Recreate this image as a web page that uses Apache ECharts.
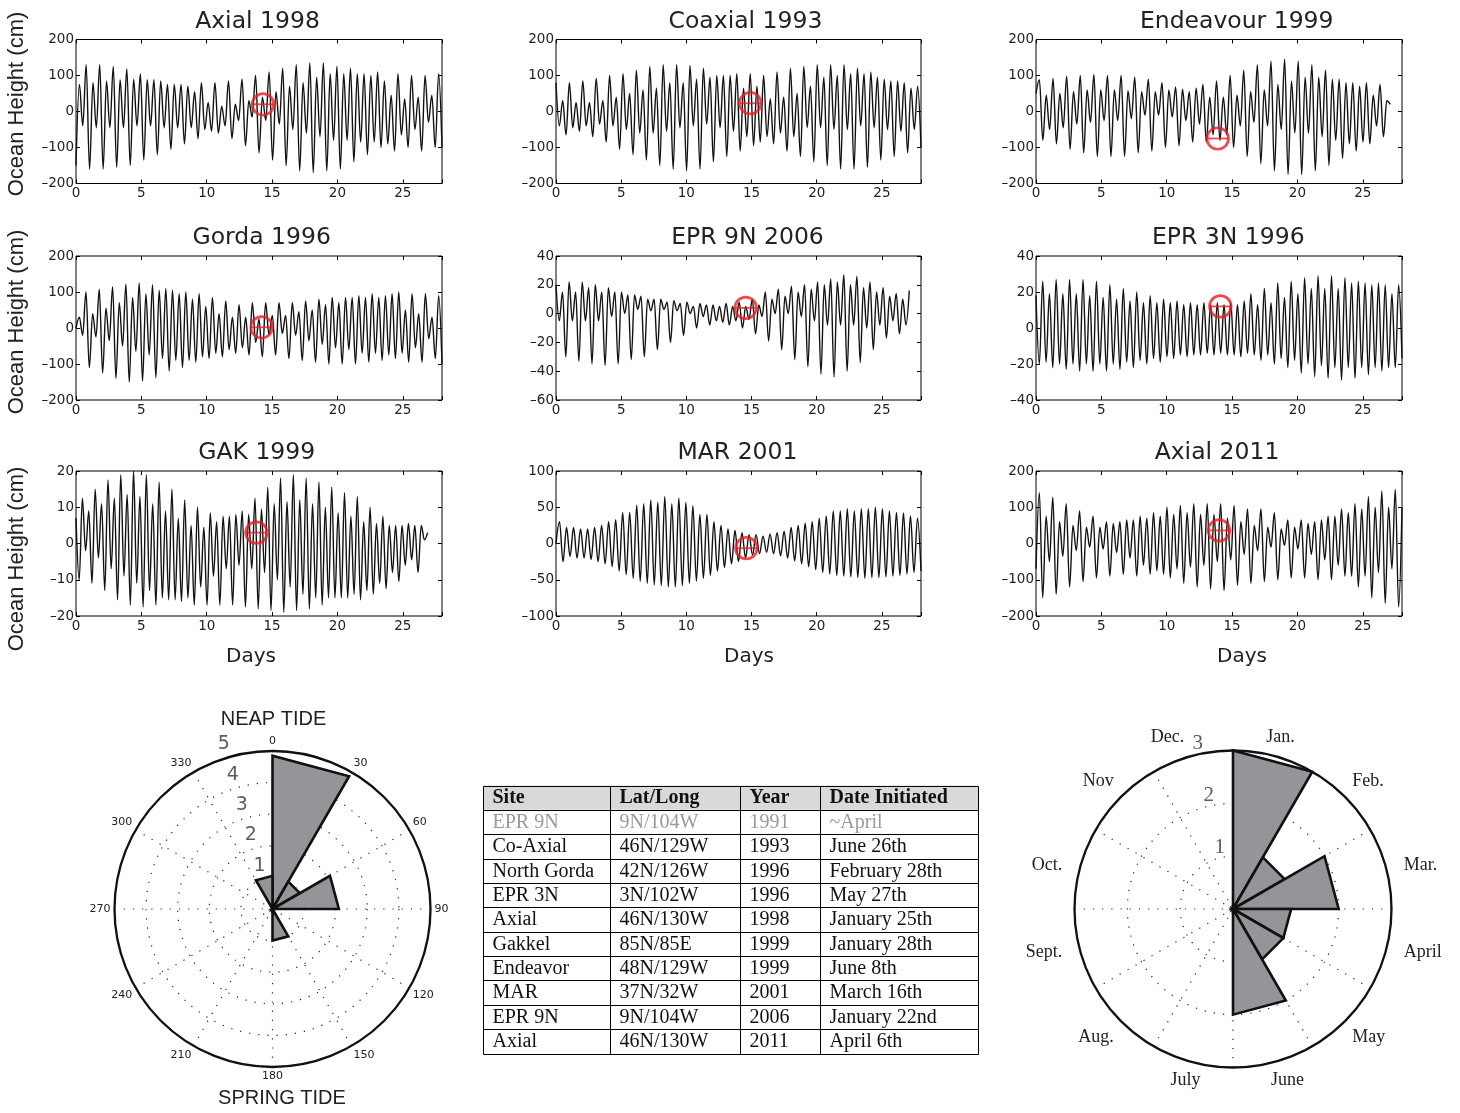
<!DOCTYPE html>
<html><head><meta charset="utf-8">
<script src="https://cdn.jsdelivr.net/npm/echarts@6/dist/echarts.min.js"></script>
<style>html,body{margin:0;padding:0;background:#fff;overflow:hidden}#c{width:1460px;height:1113px}</style>
</head><body><div id="c"></div>
<script>
// ---------- tidal records: successive extrema (cm), evenly spread over the record length ----------
const axial1998 = [-150, 75,-40,130,-160, 80,-45,130,-160, 85,-45,125,-155, 88,-45,118,-150, 90,-40,105,-135, 88,-40,88,-120, 85,-45,75,-105, 75,-45,75,-90, 70,-45,55,-75, 80,-50,25,-55, 80,-60,15,-40, 85,-75,20,-25, 90,-95,30,-15, 100,-115,40,-25, 110,-135,55,-35, 120,-150,70,-50, 130,-165,80,-60, 135,-170,95,-70, 135,-165,105,-80, 125,-160,105,-80, 120,-140,105,-85, 105,-120,100,-85, 110,-100,85,-90, 45,-110,105,-65, 35,-100,100,-50, 40,-110,100,-30, 45,-100,105,-100];
const coaxial1993 = [80, -40,30,-65,80, -45,25,-55,85, -40,25,-70,92, -35,30,-85,100, -40,40,-105,105, -50,50,-120,115, -60,60,-135,125, -60,65,-150,130, -55,80,-160,130, -45,80,-165,128, -40,90,-160,120, -35,95,-140,100, -45,100,-125,100, -55,105,-110,65, -70,105,-95,70, -85,100,-70,35, -90,110,-60,40, -110,120,-70,50, -125,125,-45,70, -140,130,-45,95, -150,130,-50,100, -160,130,-50,105, -160,120,-40,105, -155,110,-45,95, -135,90,-50,85, -125,85,-55,80, -115,65,-50,70, -100];
const endeavour1999 = [50, 88,-80,45,-50, 92,-90,50,-45, 98,-105,55,-35, 100,-115,60,-30, 103,-125,60,-25, 100,-125,60,-25, 100,-125,58,-20, 95,-115,55,-10, 90,-110,55,-10, 80,-100,60,-15, 68,-95,62,-25, 55,-85,65,-35, 75,-85,40,-65, 85,-80,40,-65, 100,-100,45,-40, 115,-125,55,-30, 130,-145,60,-40, 140,-165,75,-50, 145,-175,85,-60, 140,-175,95,-60, 130,-165,95,-70, 115,-150,90,-80, 90,-130,80,-90, 80,-110,70,-85, 80,-90,45,-40, 75,-70,30,20];
const gorda1996 = [0, 30,-20,100,-110, 40,-25,108,-125, 55,-35,115,-140, 70,-50,122,-150, 85,-65,125,-148, 95,-75,120,-138, 105,-85,110,-120, 105,-90,95,-110, 100,-90,80,-95, 95,-80,60,-85, 85,-70,40,-80, 75,-60,30,-70, 65,-55,30,-75, 70,-40,25,-80, 70,-20,35,-75, 70,-15,35,-85, 70,-20,45,-90, 75,-35,50,-95, 80,-45,65,-100, 85,-55,70,-100, 85,-60,85,-100, 90,-70,85,-95, 95,-70,85,-90, 90,-75,95,-85, 100,-70,50,-95, 95,-55,40,-95, 95,-30,30,-85, 90,-100];
const epr9n2006 = [20, -5,15,-30,22, -5,15,-33,22, -5,18,-35,20, -5,15,-36,18, -2,15,-35,15, 0,13,-32,13, 3,12,-30,10, 2,10,-25,10, 3,8,-20,9, 2,7,-15,8, 0,5,-10,7, -2,6,-8,6, -5,5,-6,7, -8,5,-5,8, -10,5,-4,10, -14,6,-2,15, -19,10,0,17, -25,12,0,19, -32,15,-2,20, -37,17,-5,22, -42,20,-8,24, -44,22,-8,27, -40,20,-8,26, -34,18,-10,22, -25,15,-8,18, -17,12,-5,14, -14,10,-8,16];
const epr3n1996 = [18, -20,26,-19,19, -22,27,-20,19, -23,27,-20,19, -24,27,-20,18, -24,26,-20,17, -24,24,-20,16, -23,22,-19,15, -22,20,-18,14, -20,18,-17,14, -19,16,-16,14, -17,15,-15,13, -16,14,-15,13, -15,14,-14,13, -15,14,-14,13, -15,14,-15,13, -16,15,-14,19, -15,13,-18,22, -15,14,-20,25, -17,17,-22,26, -18,19,-25,28, -20,22,-27,29, -21,22,-28,29, -22,22,-29,28, -22,25,-28,26, -22,25,-26,24, -22,25,-24,24, -22,19,-22,24, -17];
const gak1999 = [7, -10,12.5,-2,9, -11,15,-4,11, -13,17.5,-7,12.5, -15.5,19,-9,13.5, -17,20,-11,13, -17.5,19,-13,11, -17,17,-15,9, -15.5,15,-15.5,7, -16,12,-15,5, -17,10,-12,4.5, -17,8.5,-9,6, -17,7.5,-7,7.5, -17,8,-6,9, -17.5,8,-7,12.5, -18,9.5,-8,15.5, -18.5,11,-10,18, -19,11.5,-12,19, -18.5,12,-14,18, -18,11,-15,17, -17,10,-15,15.5, -15,8.5,-15,14, -15,7.5,-14,13, -15.5,6,-13,10, -14,5.5,-11,7.5, -12.5,5,-8,5, -10.5,5,-6,5.5, -4.5,5,-8,5, 1,3];
const mar2001 = [0, 30,-25, 22,-18, 22,-20, 20,-20, 20,-22, 22,-25, 25,-28, 30,-32, 33,-38, 43,-43, 43,-48, 53,-52, 55,-55, 60,-57, 57,-58, 65,-60, 55,-60, 63,-58, 57,-55, 52,-52, 40,-48, 40,-44, 30,-38, 25,-33, 20,-28, 18,-25, 15,-20, 12,-16, 12,-14, 10,-12, 13,-14, 15,-17, 17,-20, 22,-24, 25,-28, 28,-32, 30,-36, 35,-40, 38,-42, 45,-44, 45,-45, 48,-46, 45,-47, 48,-48, 48,-47, 50,-47, 48,-46, 45,-45, 43,-44, 42,-42, 38,-40, 35,-38];
const axial2011 = [-70, 140,-150, 75,-50, 128,-140, 60,-35, 110,-120, 50,-20, 90,-105, 45,-10, 75,-95, 45,-15, 60,-90, 55,-25, 60,-85, 65,-40, 65,-90, 75,-60, 70,-85, 85,-75, 75,-85, 100,-95, 80,-70, 105,-110, 85,-65, 110,-120, 80,-60, 110,-125, 80,-50, 110,-130, 70,-45, 105,-115, 60,-30, 95,-110, 50,-20, 95,-105, 45,-10, 85,-100, 40,-5, 65,-95, 45,-15, 65,-95, 55,-30, 60,-100, 65,-45, 75,-100, 75,-60, 95,-90, 85,-90, 110,-120, 95,-90, 130,-150, 100,-80, 145,-165, 100,-70, 150,-175, 100];

const panelTitles = ['Axial 1998','Coaxial 1993','Endeavour 1999','Gorda 1996','EPR 9N 2006','EPR 3N 1996','GAK 1999','MAR 2001','Axial 2011'];
const recordDays = [28, 28, 27.1, 28, 27.1, 28, 26.9, 28, 28];
const yMin = [-200,-200,-200,-200,-60,-40,-20,-100,-200];
const yMax = [200,200,200,200,40,40,20,100,200];
const yStep = [100,100,100,100,20,20,10,50,100];
const xTicks = [0,5,10,15,20,25];
const circleDay = [14.3, 14.9, 13.9, 14.2, 14.55, 14.1, 13.8, 14.6, 14.0];
const circleVal = [20, 23, -75, 2, 4, 12, 3, -6.5, 36];

// ---------- rose diagrams ----------
const binStart = [0,30,60,90,120,150,180,210,240,270,300,330];
const phaseCounts = [4.85, 1, 2.1, 0, 0, 1, 0, 0, 0, 0, 0, 1.05];
const phaseRadialTicks = [1,2,3,4,5];
const monthLabels = ['Jan.','Feb.','Mar.','April','May','June','July','Aug.','Sept.','Oct.','Nov','Dec.'];
const monthCounts = [3, 1.13, 2, 1.1, 1.1, 2, 0, 0, 0, 0, 0, 0];
const monthRadialTicks = [1,2,3];

// ---------- table ----------
const tableHeader = ['Site','Lat/Long','Year','Date Initiated'];
const tSite = ['EPR 9N','Co-Axial','North Gorda','EPR 3N','Axial','Gakkel','Endeavor','MAR','EPR 9N','Axial'];
const tLatLong = ['9N/104W','46N/129W','42N/126W','3N/102W','46N/130W','85N/85E','48N/129W','37N/32W','9N/104W','46N/130W'];
const tYear = ['1991','1993','1996','1996','1998','1999','1999','2001','2006','2011'];
const tDate = ['~April','June 26th','February 28th','May 27th','January 25th','January 28th','June 8th','March 16th','January 22nd','April 6th'];

// ---------- layout ----------
const panels = [axial1998, coaxial1993, endeavour1999, gorda1996, epr9n2006, epr3n1996, gak1999, mar2001, axial2011];
const gridLeft = [76, 556, 1036], gridW = [366, 365, 366];
const gridTop = [39.5, 256, 471], gridH = [144, 144, 145];
const titleX = [257.5, 745.5, 1236.7, 261.7, 747.5, 1228.3, 256.7, 737.5, 1217];
const titleY = [21.7, 237.5, 453.3];
// per-month label nudges [top, right, bottom, left] padding, to follow the original placement
const monthLabelPad = [[4,0,0,8],[0,0,0,0],[0,0,0,8],[0,0,0,8],[0,0,0,0],[0,0,0,22],[0,8,0,0],[0,0,0,0],[0,8,0,0],[0,8,0,0],[0,0,0,0],[0,44,0,0]];
const RED = '#ed1c24';
const SANS = 'DejaVu Sans';

const grids = [], xAxes = [], yAxes = [], series = [];
const tickFmt = v => (v < 0 ? '\u2013' + Math.abs(v) : String(v));

panels.forEach((arr, i) => {
  const row = Math.floor(i / 3), col = i % 3;
  grids.push({left: gridLeft[col], top: gridTop[row], width: gridW[col], height: gridH[row],
    show: true, borderColor: '#000', borderWidth: 1, backgroundColor: 'transparent', containLabel: false, outerBoundsMode: 'none'});
  const xb = {gridIndex: i, type: 'value', min: 0, max: 28, interval: 5,
    axisLine: {show: false, onZero: false}, splitLine: {show: false},
    axisTick: {inside: true, length: 4, lineStyle: {color: '#000', width: 1}}};
  xAxes.push(Object.assign({}, xb, {position: 'bottom',
    axisLabel: {show: true, margin: 3, fontSize: 13.5, fontFamily: SANS, color: '#222',
      formatter: v => (xTicks.indexOf(v) >= 0 ? String(v) : '')}}));
  xAxes.push(Object.assign({}, xb, {position: 'top', axisLabel: {show: false}}));
  const yb = {gridIndex: i, type: 'value', min: yMin[i], max: yMax[i], interval: yStep[i],
    axisLine: {show: false, onZero: false}, splitLine: {show: false},
    axisTick: {inside: true, length: 4, lineStyle: {color: '#000', width: 1}}};
  yAxes.push(Object.assign({}, yb, {position: 'left',
    axisLabel: {show: true, margin: 2, fontSize: 13.5, fontFamily: SANS, color: '#222', formatter: tickFmt}}));
  yAxes.push(Object.assign({}, yb, {position: 'right', axisLabel: {show: false}}));

  const n = arr.length;
  const data = arr.map((v, k) => [k * recordDays[i] / (n - 1), v]);
  series.push({type: 'line', xAxisIndex: 2 * i, yAxisIndex: 2 * i, data: data, showSymbol: false, symbol: 'none',
    smooth: 0.36, smoothMonotone: 'x', lineStyle: {color: '#111', width: 1.4}, silent: true, z: 2, clip: true});
  series.push({type: 'scatter', xAxisIndex: 2 * i, yAxisIndex: 2 * i, data: [[circleDay[i], circleVal[i]]],
    symbol: 'circle', symbolSize: 21.5, itemStyle: {color: 'rgba(0,0,0,0)', borderColor: RED, borderWidth: 2.7}, silent: true, z: 5});
  series.push({type: 'scatter', xAxisIndex: 2 * i, yAxisIndex: 2 * i, data: [[circleDay[i], circleVal[i]]],
    symbol: 'rect', symbolSize: [21, 1.8], itemStyle: {color: RED}, silent: true, z: 5});
});

// rose wedges (straight-edged sectors, as in the original)
function wedge(params, api) {
  const r = api.value(0), a0 = api.value(1), a1 = api.value(2);
  const c = api.coord([0, a0]);
  const p1 = api.coord([r, a0]);
  const p2 = api.coord([r, a1]);
  return {type: 'polygon', shape: {points: [c, p1, p2]},
    style: {fill: '#939598', stroke: '#111', lineWidth: 2.6, lineJoin: 'miter'}};
}
const phaseData = binStart.map((a, k) => [phaseCounts[k], a, a + 30]).filter(d => d[0] > 0);
const monthData = binStart.map((a, k) => [monthCounts[k], a, a + 30]).filter(d => d[0] > 0);
series.push({type: 'custom', coordinateSystem: 'polar', polarIndex: 0, data: phaseData, renderItem: wedge, silent: true, z: 3});
series.push({type: 'custom', coordinateSystem: 'polar', polarIndex: 1, data: monthData, renderItem: wedge, silent: true, z: 3});
// radial tick labels sit just outside their rings; they use wider, same-scale polar systems (3 and 4)
series.push({type: 'scatter', coordinateSystem: 'polar', polarIndex: 3, silent: true, z: 6,
  data: phaseRadialTicks.map(v => [v + 0.43, 343.5]), symbolSize: 1, itemStyle: {color: 'rgba(0,0,0,0)'},
  label: {show: true, position: 'inside', formatter: p => String(phaseRadialTicks[p.dataIndex]), fontSize: 19, fontFamily: SANS, color: '#333'}});
series.push({type: 'scatter', coordinateSystem: 'polar', polarIndex: 4, silent: true, z: 6,
  data: monthRadialTicks.map(v => [v + 0.2, 348]), symbolSize: 1, itemStyle: {color: 'rgba(0,0,0,0)'},
  label: {show: true, position: 'inside', formatter: p => String(monthRadialTicks[p.dataIndex]), fontSize: 21, fontFamily: 'Liberation Serif', color: '#333'}});

const dotted = {type: [1.2, 8], color: '#222', width: 1.2};
const LC = [272.5, 909], RC = [1233, 909];
const polar = [
  {center: LC, radius: 158},
  {center: RC, radius: 158.5},
  {center: RC, radius: 158.5},
  {center: LC, radius: 158 * 6 / 5},
  {center: RC, radius: 158.5 * 4 / 3}
];
const hiddenAngle = k => ({polarIndex: k, type: 'value', min: 0, max: 360, startAngle: 90, clockwise: true, show: false});
const angleAxis = [
  {polarIndex: 0, type: 'value', min: 0, max: 360, interval: 30, startAngle: 90, clockwise: true,
    axisLine: {lineStyle: {color: '#111', width: 2.3}}, axisTick: {show: false},
    axisLabel: {fontSize: 11, fontFamily: SANS, color: '#222', margin: 4, formatter: v => (v === 360 ? '' : String(v))},
    splitLine: {show: true, lineStyle: dotted}},
  {polarIndex: 1, type: 'value', min: 0, max: 360, interval: 30, startAngle: 90, clockwise: true,
    axisLine: {lineStyle: {color: '#111', width: 2.3}}, axisTick: {show: false}, axisLabel: {show: false},
    splitLine: {show: true, lineStyle: dotted}},
  {polarIndex: 2, type: 'category', startAngle: 90, clockwise: true, boundaryGap: true,
    data: monthLabels.map((m, k) => ({value: m, textStyle: {padding: monthLabelPad[k]}})),
    axisLine: {show: false}, axisTick: {show: false}, splitLine: {show: false},
    axisLabel: {interval: 0, fontSize: 18, fontFamily: 'Liberation Serif', color: '#222', margin: 10}},
  hiddenAngle(3),
  hiddenAngle(4)
];
const radiusAxis = [
  {polarIndex: 0, type: 'value', min: 0, max: 5, interval: 1, axisLine: {show: false}, axisTick: {show: false},
    axisLabel: {show: false}, splitLine: {show: true, lineStyle: dotted}},
  {polarIndex: 1, type: 'value', min: 0, max: 3, interval: 1, axisLine: {show: false}, axisTick: {show: false},
    axisLabel: {show: false}, splitLine: {show: true, lineStyle: dotted}},
  {polarIndex: 2, type: 'value', min: 0, max: 3, show: false},
  {polarIndex: 3, type: 'value', min: 0, max: 6, show: false},
  {polarIndex: 4, type: 'value', min: 0, max: 4, show: false}
];

// ---------- text & table via graphic ----------
const graphic = [];
function txt(text, x, y, size, family, opts) {
  opts = opts || {};
  graphic.push({type: 'text', x: x, y: y, rotation: opts.rotation || 0, silent: true, z: 10,
    style: {text: text, fontSize: size, fontFamily: family, fontWeight: opts.weight || 'normal',
      fill: opts.fill || '#222', align: opts.align || 'center', textAlign: opts.align || 'center',
      verticalAlign: 'middle', textVerticalAlign: 'middle'}});
}
panelTitles.forEach((t, i) => txt(t, titleX[i], titleY[Math.floor(i / 3)], 23.5, SANS));
[104, 322, 559].forEach(y => txt('Ocean Height (cm)', 17, y, 22, 'Liberation Sans', {rotation: Math.PI / 2}));
[251, 749, 1242].forEach(x => txt('Days', x, 657, 20, SANS));
txt('NEAP TIDE', 273.5, 719, 20, 'Liberation Sans');
txt('SPRING TIDE', 282, 1098, 20, 'Liberation Sans');

const colX = [483.5, 610.5, 740.5, 820.5, 978.5];
const tTop = 785.5, rowH = 24.37;
const nRows = tSite.length + 1;
graphic.push({type: 'rect', shape: {x: colX[0], y: tTop, width: colX[4] - colX[0], height: rowH}, style: {fill: '#d9d9d9'}, silent: true, z: 8});
for (let r = 0; r <= nRows; r++) {
  const y = Math.round(tTop + r * rowH) + 0.5;
  graphic.push({type: 'line', shape: {x1: colX[0], y1: y, x2: colX[4], y2: y}, style: {stroke: '#000', lineWidth: 1}, silent: true, z: 9});
}
colX.forEach(x => graphic.push({type: 'line', shape: {x1: x, y1: Math.round(tTop) + 0.5, x2: x, y2: Math.round(tTop + nRows * rowH) + 0.5},
  style: {stroke: '#000', lineWidth: 1}, silent: true, z: 9}));
const tableCols = [tSite, tLatLong, tYear, tDate];
tableHeader.forEach((h, c) => txt(h, colX[c] + 9, tTop + rowH / 2 + 0.5, 20, 'Liberation Serif', {align: 'left', weight: 'bold', fill: '#111'}));
tSite.forEach((_, r) => {
  tableCols.forEach((col, c) => txt(col[r], colX[c] + 9, tTop + (r + 1) * rowH + rowH / 2 + 0.5, 20, 'Liberation Serif',
    {align: 'left', fill: r === 0 ? '#9a9a9a' : '#111'}));
});

const chart = echarts.init(document.getElementById('c'), null, {renderer: 'canvas', width: 1460, height: 1113});
chart.setOption({
  animation: false,
  backgroundColor: '#fff',
  grid: grids, xAxis: xAxes, yAxis: yAxes,
  polar: polar, angleAxis: angleAxis, radiusAxis: radiusAxis,
  series: series, graphic: graphic
});
</script>
</body></html>
